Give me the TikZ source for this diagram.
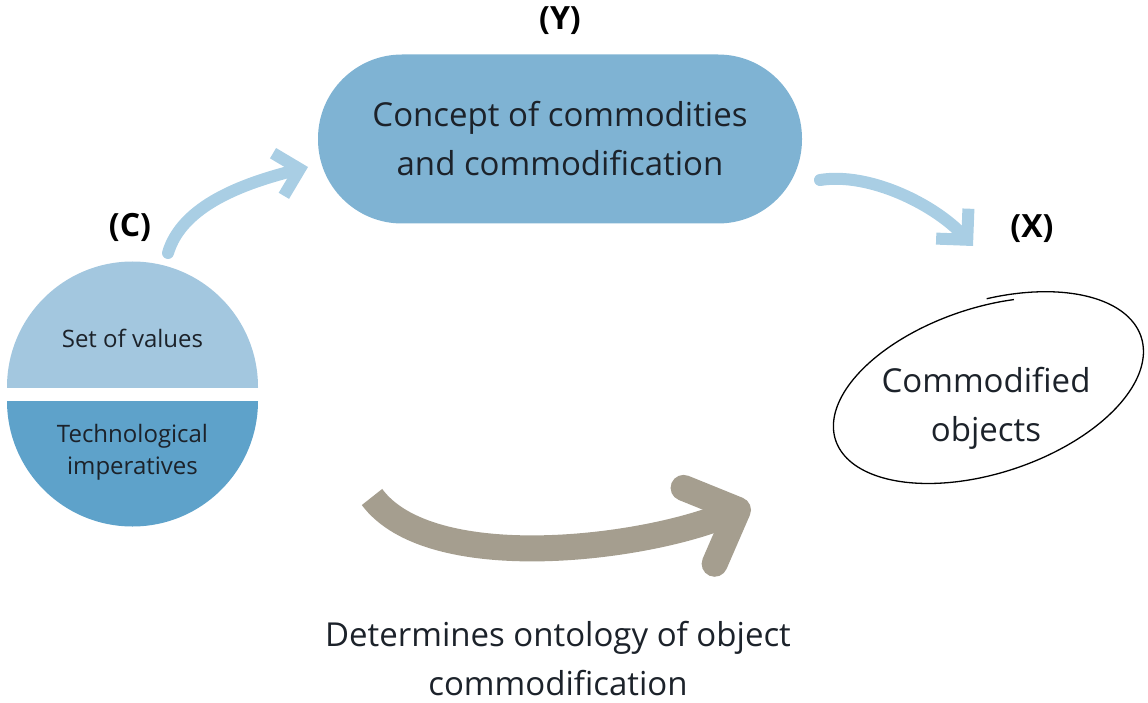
\documentclass[tikz,border=0pt]{standalone}
\usepackage{fontspec}
\setmainfont{Open Sans}
\usepackage{tikz}
\usetikzlibrary{arrows.meta, positioning, shapes}
\definecolor{boxblue}{RGB}{127, 179, 211}
\definecolor{capblue}{RGB}{163, 199, 223}
\definecolor{basblue}{RGB}{94, 162, 202}
\definecolor{arrblue}{RGB}{169, 206, 228}
\definecolor{arrgrey}{RGB}{165, 158, 143}
\definecolor{txtdark}{RGB}{28, 34, 42}

\begin{document}
\begin{tikzpicture}[x=1pt,y=-1pt,
    lbl/.style={font=\fontsize{32}{38}\selectfont\bfseries},
    bigtxt/.style={font=\fontsize{33}{49}\selectfont,text=txtdark,align=center},
    smltxt/.style={font=\fontsize{24}{32}\selectfont,text=txtdark,align=center},
    thinarr/.style={arrblue,line width=12pt,line cap=round,-{Straight Barb[length=22pt,width=44pt]}}]
        \useasboundingbox (0,0) rectangle (1148,703);
        % box (Y)
        \node[fill=boxblue,rounded corners=84pt,minimum width=484pt,minimum height=169pt,bigtxt] (concept) at (560,139){Concept of commodities\\and commodification};
        \node[lbl] (ylbl) at (560,21){(Y)};
        % circle (C)
        \begin{scope}
          \clip (0,250) rectangle (270,387);
          \fill[capblue] (132.5,387) circle[radius=125.5];
        \end{scope}
        \begin{scope}
          \clip (0,401) rectangle (270,540);
          \fill[basblue] (132.5,401) circle[radius=125.5];
        \end{scope}
        \node[smltxt] (values) at (132.5,338){Set of values};
        \node[smltxt] (imper) at (132.5,452){Technological\\imperatives};
        \node[lbl] (clbl) at (130,227){(C)};
        % ellipse (X)
        \node[ellipse,rotate=18.6,minimum width=326pt,minimum height=172pt] (objects) at (987,389){};
        \draw[line width=1.3pt,shift={(987,389)},rotate=18.6] plot[smooth,domain=280:650,samples=90]
          ({(164-0.016*(\x-280))*cos(\x)},{(87-0.016*(\x-280))*sin(\x)});
        \node[bigtxt] (objtxt) at (986,408){Commodified\\objects};
        \node[lbl] (xlbl) at (1032,229){(X)};
        % arrows
        \coordinate (cstart) at (168,253);
        \coordinate (ctip) at (308,167);
        \coordinate (ystart) at (820,180);
        \coordinate (ytip) at (973,246);
        \draw[thinarr] (cstart) .. controls (182,205) and (245,183) .. (ctip);
        \draw[thinarr] (ystart) .. controls (870,172) and (935,205) .. (ytip);
        \coordinate (gstart) at (372,497);
        \coordinate (gtip) at (750,505);
        \draw[arrgrey,line width=26pt,-{Straight Barb[length=42pt,width=82pt,round]}] (gstart) .. controls (430,575) and (640,550) .. (gtip);
        \node[bigtxt,inner sep=0pt] (ontology) at (558,659){Determines ontology of object\\commodification};
      \end{tikzpicture}
\end{document}
